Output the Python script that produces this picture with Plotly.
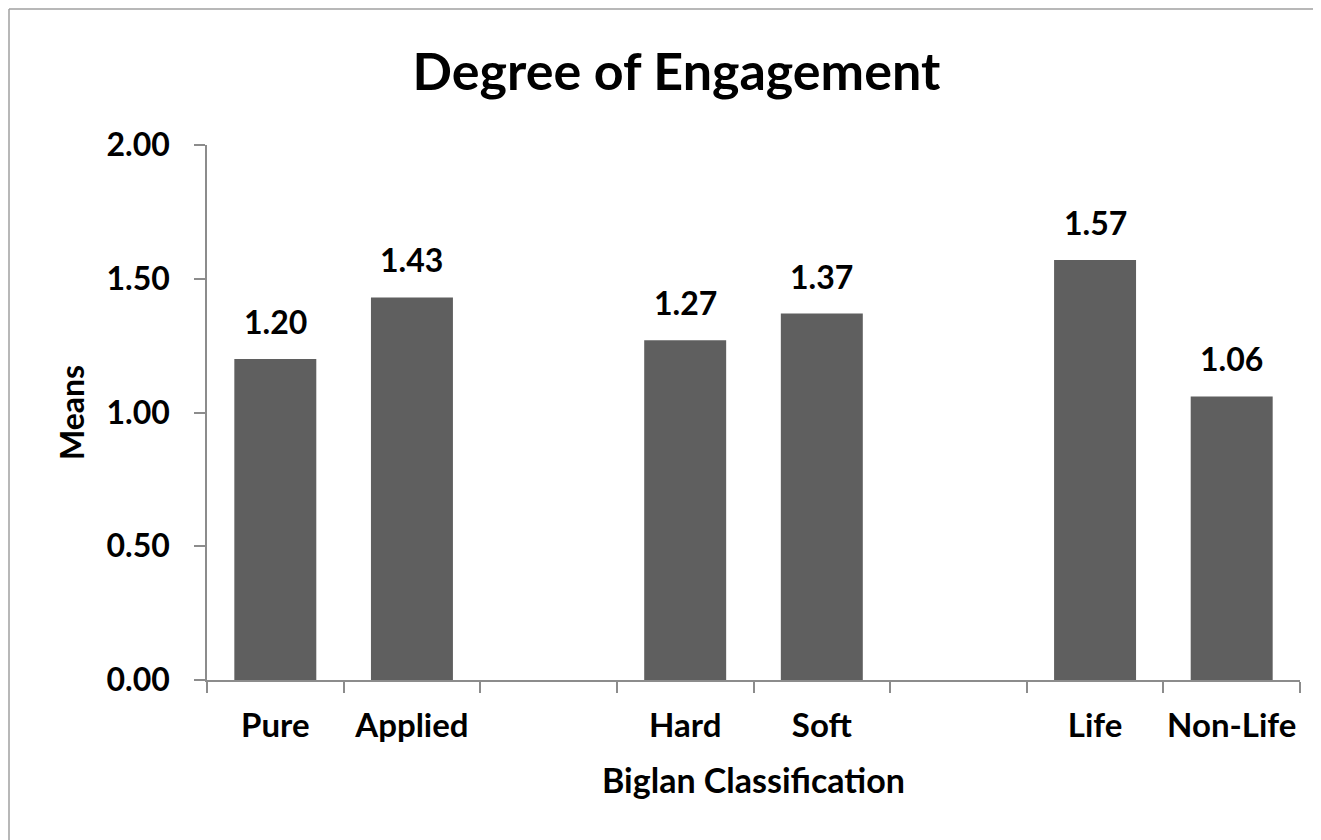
import plotly.graph_objects as go

categories = ["Pure", "Applied", " ", "Hard", "Soft", "  ", "Life", "Non-Life"]
means = [1.20, 1.43, None, 1.27, 1.37, None, 1.57, 1.06]
labels = ["1.20", "1.43", "", "1.27", "1.37", "", "1.57", "1.06"]
y_ticks = [0, 0.5, 1.0, 1.5, 2.0]

FONT = "Lato, 'Open Sans', sans-serif"
AXIS = "#8c8c8c"

fig = go.Figure(go.Bar(
    x=categories, y=means,
    marker=dict(color="#5f5f5f", line=dict(width=0)),
))

annotations = [
    dict(x=c, y=v, text=f"<b>{t}</b>", showarrow=False, yanchor="bottom",
         yshift=16, font=dict(family=FONT, size=32, color="black"))
    for c, v, t in zip(categories, means, labels) if v is not None
]

fig.update_layout(
    width=1321, height=840,
    paper_bgcolor="white", plot_bgcolor="white",
    margin=dict(l=199, r=29, t=137, b=168, autoexpand=False),
    bargap=0.4,
    showlegend=False,
    title=dict(text="<b>Degree of Engagement</b>", x=0.506, xref="container",
               xanchor="center", y=1 - 64/840, yref="container", yanchor="middle",
               font=dict(family=FONT, size=52, color="black")),
    font=dict(family=FONT, color="black"),
    annotations=annotations,
    shapes=[
        dict(type="line", xref="paper", yref="paper", x0=-198/1093, x1=1.2,
             y0=1 + 136/535, y1=1 + 136/535, line=dict(color="#a0a0a0", width=1.5)),
        dict(type="line", xref="paper", yref="paper", x0=-198/1093, x1=-198/1093,
             y0=1 + 136/535, y1=-0.5, line=dict(color="#a0a0a0", width=1.5)),
    ],
)

fig.update_xaxes(
    type="category", categoryorder="array", categoryarray=categories,
    tickson="boundaries", ticks="outside", ticklen=11, tickcolor=AXIS, tickwidth=1.5,
    showline=True, linecolor=AXIS, linewidth=1.5, showgrid=False,
    tickfont=dict(family=FONT, size=33, color="black", weight="bold"),
    tickangle=0, automargin=False, ticklabelstandoff=16,
    title=dict(text="<b>Biglan Classification</b>", standoff=26,
               font=dict(family=FONT, size=34, color="black")),
)
fig.update_yaxes(
    range=[0, 2], tickvals=y_ticks, tickformat=".2f", automargin=False,
    ticks="outside", ticklen=11, tickcolor=AXIS, tickwidth=1.5,
    showline=True, linecolor=AXIS, linewidth=1.5, showgrid=False, zeroline=False,
    tickfont=dict(family=FONT, size=32, color="black", weight="bold"),
    ticklabelstandoff=18,
    title=dict(text="<b>Means</b>", standoff=12,
               font=dict(family=FONT, size=32, color="black")),
)

fig.write_html("out.html")
